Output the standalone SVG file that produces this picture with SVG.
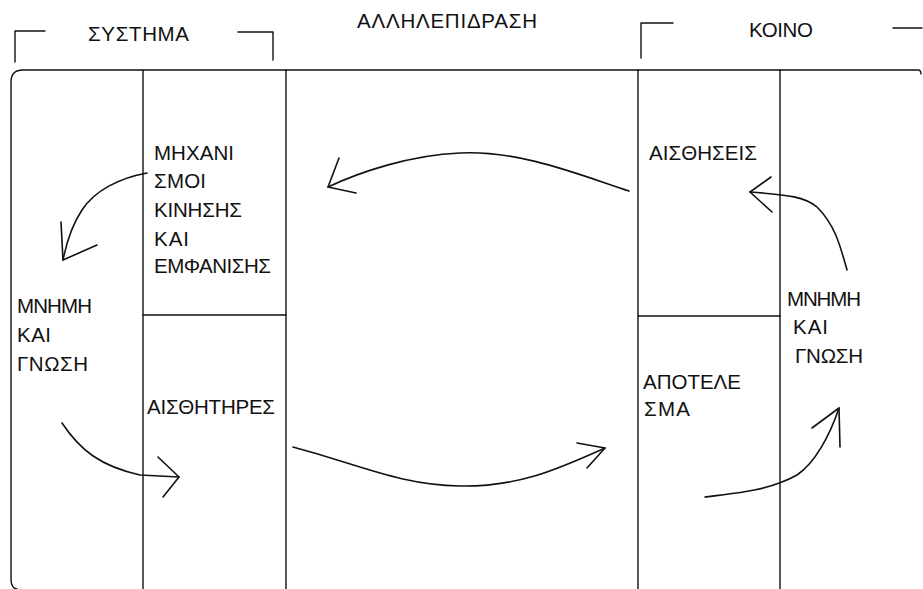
<svg xmlns="http://www.w3.org/2000/svg" width="923" height="589" viewBox="0 0 923 589">
  <style>
    .ln { fill: none; stroke: #111; stroke-width: 1.4; stroke-linecap: round; stroke-linejoin: round; }
    .arc { fill: none; stroke: #111; stroke-width: 1.6; stroke-linecap: round; stroke-linejoin: round; }
    .t { font-family: "Liberation Sans", Arial, sans-serif; font-size: 20.5px; fill: #111; }
  </style>
  <rect width="923" height="589" fill="#fff"/>

  <!-- outer frame and column rules -->
  <g id="frame">
    <path class="ln" d="M17,589 Q11,588 11,579 L11,82 Q11,70 23,70 L918,70 Q921,70 921,74"/>
    <line class="ln" x1="143" y1="70" x2="143" y2="589"/>
    <line class="ln" x1="286" y1="70" x2="286" y2="589"/>
    <line class="ln" x1="638" y1="70" x2="638" y2="589"/>
    <line class="ln" x1="780" y1="70" x2="780" y2="589"/>
  </g>

  <!-- header brackets and titles -->
  <g id="header-system">
    <path class="ln" d="M15,62 L15,31 L45,31"/>
    <path class="ln" d="M238,32 L273,32 L273,60"/>
    <text class="t" x="88" y="41" textLength="101" lengthAdjust="spacing">ΣΥΣΤΗΜΑ</text>
  </g>
  <g id="header-interaction">
    <text class="t" x="357" y="28" textLength="180" lengthAdjust="spacing">ΑΛΛΗΛΕΠΙΔΡΑΣΗ</text>
  </g>
  <g id="header-public">
    <path class="ln" d="M641,58 L641,23 L673,23"/>
    <path class="ln" d="M893,28 L922,28"/>
    <text class="t" x="749" y="37" textLength="64" lengthAdjust="spacing">ΚΟΙΝΟ</text>
  </g>

  <!-- system: memory and knowledge -->
  <g id="system-memory">
    <text class="t" x="17" y="313" textLength="75" lengthAdjust="spacing">ΜΝΗΜΗ</text>
    <text class="t" x="17" y="342" textLength="34" lengthAdjust="spacing">ΚΑΙ</text>
    <text class="t" x="17" y="371" textLength="71" lengthAdjust="spacing">ΓΝΩΣΗ</text>
  </g>

  <!-- system: motion and appearance mechanisms -->
  <g id="system-mechanisms">
    <text class="t" x="154" y="160" textLength="80" lengthAdjust="spacing">ΜΗΧΑΝΙ</text>
    <text class="t" x="154" y="188" textLength="52" lengthAdjust="spacing">ΣΜΟΙ</text>
    <text class="t" x="154" y="217" textLength="88" lengthAdjust="spacing">ΚΙΝΗΣΗΣ</text>
    <text class="t" x="154" y="246" textLength="35" lengthAdjust="spacing">ΚΑΙ</text>
    <text class="t" x="154" y="273" textLength="117" lengthAdjust="spacing">ΕΜΦΑΝΙΣΗΣ</text>
  </g>

  <!-- system: sensors -->
  <g id="system-sensors">
    <line class="ln" x1="143" y1="315" x2="286" y2="315"/>
    <text class="t" x="147" y="414" textLength="128" lengthAdjust="spacing">ΑΙΣΘΗΤΗΡΕΣ</text>
  </g>

  <!-- public: senses -->
  <g id="public-senses">
    <text class="t" x="649" y="160" textLength="108" lengthAdjust="spacing">ΑΙΣΘΗΣΕΙΣ</text>
  </g>

  <!-- public: result -->
  <g id="public-result">
    <line class="ln" x1="638" y1="316" x2="780" y2="316"/>
    <text class="t" x="643" y="389" textLength="98" lengthAdjust="spacing">ΑΠΟΤΕΛΕ</text>
    <text class="t" x="644" y="416" textLength="46" lengthAdjust="spacing">ΣΜΑ</text>
  </g>

  <!-- public: memory and knowledge -->
  <g id="public-memory">
    <text class="t" x="787" y="306" textLength="74" lengthAdjust="spacing">ΜΝΗΜΗ</text>
    <text class="t" x="793" y="334" textLength="35" lengthAdjust="spacing">ΚΑΙ</text>
    <text class="t" x="795" y="363" textLength="68" lengthAdjust="spacing">ΓΝΩΣΗ</text>
  </g>

  <!-- hand-drawn flow arrows -->
  <g id="connectors">
    <path class="arc" d="M629,191 C580,175 520,150 460,153 C410,155 360,172 328,187"/>
    <path class="arc" d="M339,158 L328,187 L356,193"/>

    <path class="arc" d="M147,173 C120,178 95,190 82,210 C72,225 66,245 63,260"/>
    <path class="arc" d="M61,222 L63,260 L97,245"/>

    <path class="arc" d="M62,423 C80,450 100,466 140,475 L179,477"/>
    <path class="arc" d="M158,457 L179,477 L163,497"/>

    <path class="arc" d="M293,447 C360,465 400,485 460,486 C520,487 560,468 605,448"/>
    <path class="arc" d="M577,443 L605,448 L587,468"/>

    <path class="arc" d="M705,497 C740,493 770,490 797,475 C815,463 830,435 839,408"/>
    <path class="arc" d="M840,447 L839,408 L812,428"/>

    <path class="arc" d="M847,270 C840,245 835,225 817,207 C805,197 790,195 750,192"/>
    <path class="arc" d="M771,177 L750,192 L772,212"/>
  </g>
</svg>
